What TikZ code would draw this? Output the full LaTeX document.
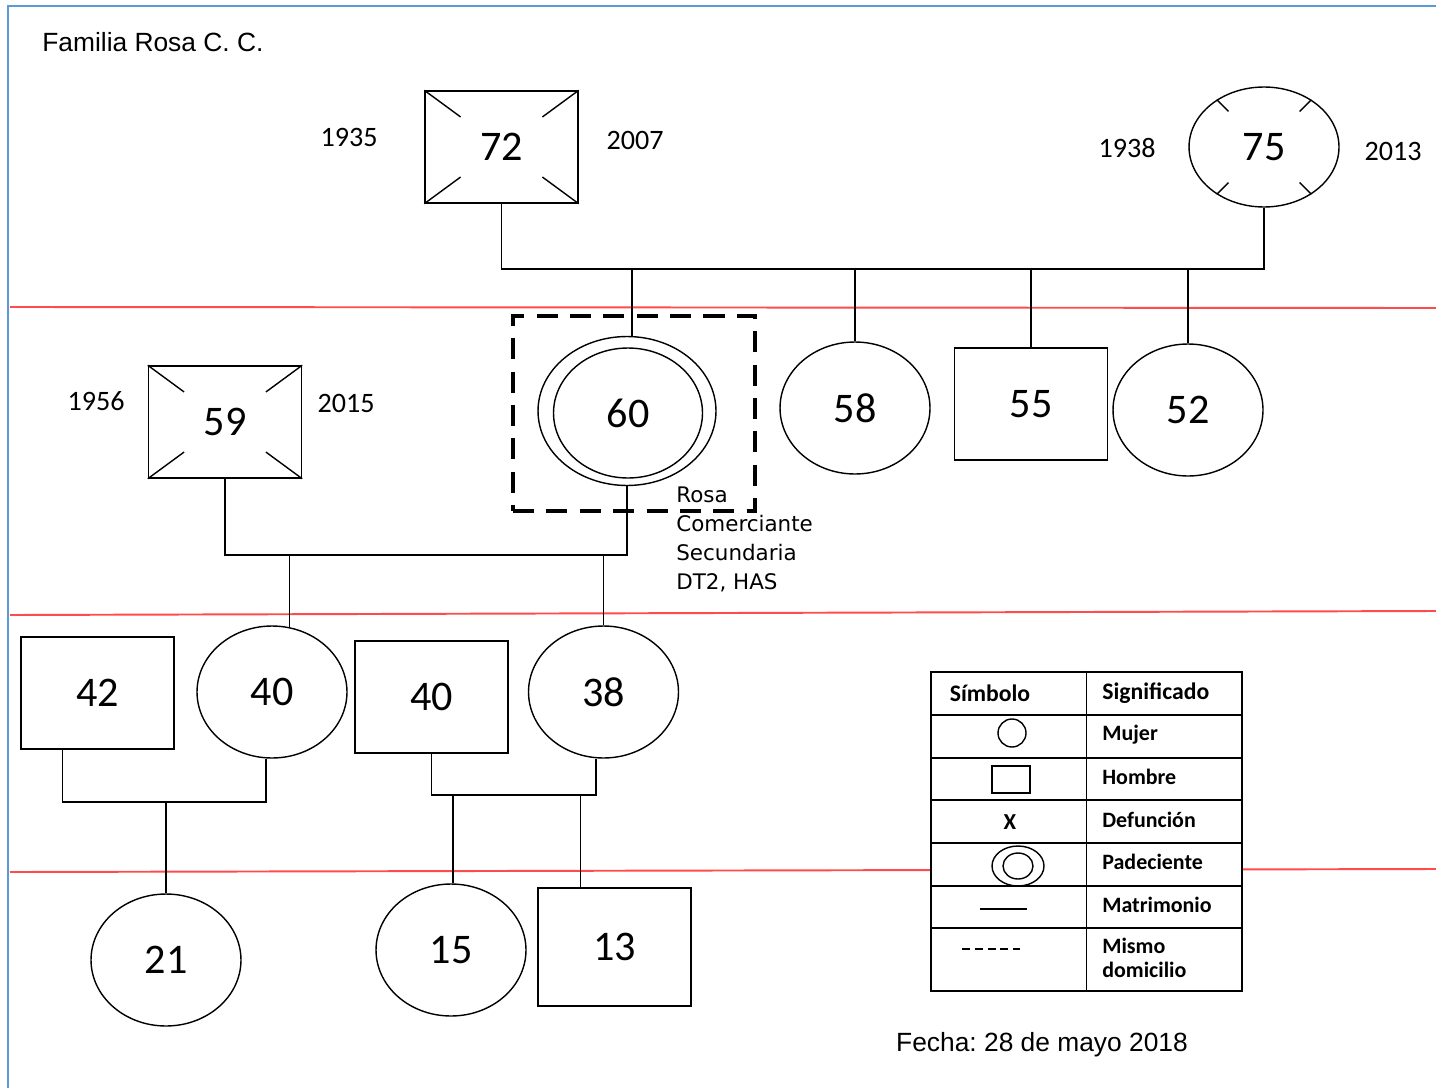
\documentclass[tikz,border=0pt]{standalone}
\usepackage{fontspec}
\setmainfont{Carlito}
\newfontfamily\arialf{Liberation Sans}
\newfontfamily\verdf{DejaVu Sans}
\usetikzlibrary{shapes.geometric,calc}
\definecolor{frameblue}{HTML}{5B9BD5}
\definecolor{genred}{HTML}{FF4B4B}
\frenchspacing

\begin{document}
\begin{tikzpicture}[x=0.02cm, y=-0.02cm,
        every node/.style={align=center},
        man/.style={draw, line width=0.8pt, rectangle, inner sep=0pt,
                    minimum width=3.06cm, minimum height=2.24cm,
                    font=\fontsize{24}{28}\selectfont},
        woman/.style={draw, line width=0.8pt, ellipse, inner sep=0pt,
                      minimum width=3cm, minimum height=2.64cm,
                      font=\fontsize{24}{28}\selectfont},
        year/.style={font=\fontsize{16}{19}\selectfont},
        link/.style={line width=0.8pt},
        genline/.style={genred, line width=1.1pt},
        legtxt/.style={font=\bfseries\fontsize{12.5}{13.6}\selectfont,
                       anchor=west, inner sep=0pt, align=left},
    ]
    \useasboundingbox (0,0) rectangle (1436,1088);
    \fill[white] (0,0) rectangle (1436,1088);

    % --- Frame and generation lines ---------------------------------------
    \draw[frameblue, line width=1.2pt] (8,1088) -- (8,6) -- (1436,6);
    \draw[genline] (10,307) -- (1436,308);
    \draw[genline] (10,615) -- (1436,611);
    \draw[genline] (10,872) -- (1436,869);

    \node[anchor=west, inner sep=0pt, font=\arialf\fontsize{15}{18}\selectfont]
        (titulo) at (42,42) {Familia Rosa C. C.};

    % --- Generation I -----------------------------------------------------
    \node[man] (p72) at (501.5,147) {72};
    \node[year] (y1935) at (349,137) {1935};
    \node[year] (y2007) at (635,140) {2007};
    \foreach \c in {north west, north east, south west, south east}
        \draw[link] (p72.\c) -- ($(p72.\c)!0.47!(p72.center)$);

    \node[woman, minimum height=2.4cm] (p75) at (1264,147) {75};
    \node[year] (y1938) at (1127,148) {1938};
    \node[year] (y2013) at (1393,151) {2013};
    \foreach \a in {45,135,225,315}
        \draw[link] (p75.\a) -- ($(p75.\a)!0.25!(p75.center)$);

    \coordinate (m1) at (880,269);
    \draw[link] (p72.south) -- (p72.south |- m1) -- (p75.south |- m1)
        -- (p75.south);

    % --- Generation II ----------------------------------------------------
    \node[woman, minimum width=3.56cm, minimum height=2.98cm] (p60) at (627,411) {};
    \node[woman, minimum width=2.98cm, minimum height=2.6cm] (p60in) at (628,413) {60};
    \node[draw, line width=2.3pt, dash pattern=on 12pt off 7pt,
          minimum width=4.84cm, minimum height=3.9cm] (hogar) at (634,413.5) {};
    \node[woman] (p58) at (855,408) {58};
    \node[man] (p55) at (1031,404) {55};
    \node[woman] (p52) at (1188,410) {52};

    \draw[link] ([xshift=0.1cm]p60.north |- m1) -- ([xshift=0.1cm]p60.north);
    \foreach \k in {p58, p55, p52}
        \draw[link] (\k.north |- m1) -- (\k.north);

    \node[anchor=north west, inner sep=0pt, align=left,
          font=\verdf\fontsize{12.2}{16.5}\selectfont]
        (rosa) at (676,487) {Rosa\\Comerciante\\Secundaria\\DT2, HAS};

    \node[man] (p59) at (225,422) {59};
    \node[year] (y1956) at (96,401) {1956};
    \node[year] (y2015) at (346,403) {2015};
    \foreach \c in {north west, north east, south west, south east}
        \draw[link] (p59.\c) -- ($(p59.\c)!0.47!(p59.center)$);

    \coordinate (m2) at (430,555);
    \draw[link] (p59.south) -- (p59.south |- m2) -- (p60.south |- m2)
        -- (p60.south);

    % --- Generation III ---------------------------------------------------
    \node[man] (p42) at (97.5,693) {42};
    \node[woman] (p40w) at (272,692) {40};
    \node[man] (p40m) at (431.5,697) {40};
    \node[woman] (p38) at (603.5,692) {38};

    \draw[link] (p40w.75 |- m2) -- (p40w.75);
    \draw[link] (p38.north |- m2) -- (p38.north);

    \coordinate (m3) at (165,802);
    \draw[link] ([xshift=-0.7cm]p42.south) -- ([xshift=-0.7cm]p42.south |- m3)
        -- ([xshift=-0.12cm]p40w.south |- m3) -- ([xshift=-0.12cm]p40w.south);

    \coordinate (m4) at (510,795);
    \draw[link] (p40m.south) -- (p40m.south |- m4)
        -- ([xshift=-0.15cm]p38.south |- m4) -- ([xshift=-0.15cm]p38.south);

    % --- Generation IV ----------------------------------------------------
    \node[woman] (p21) at (166,960) {21};
    \node[woman] (p15) at (451,950) {15};
    \node[man, minimum height=2.36cm] (p13) at (614.5,947) {13};

    \draw[link] (p21.north |- m3) -- (p21.north);
    \draw[link] ([xshift=0.04cm]p15.north |- m4) -- ([xshift=0.04cm]p15.north);
    \draw[link] ([xshift=-0.68cm]p13.north |- m4) -- ([xshift=-0.68cm]p13.north);

    % --- Legend -----------------------------------------------------------
    \node[draw, fill=white, line width=1.2pt, minimum width=6.22cm,
          minimum height=6.38cm, inner sep=0pt] (legend) at (1086.5,831.5) {};
    \draw[line width=1pt] (legend.north) -- (legend.south);
    \foreach \y in {715,758,800,843,886,928}
        \draw[line width=1pt] (legend.west |- 0,\y) -- (legend.east |- 0,\y);

    \node[font=\bfseries\fontsize{13.5}{15}\selectfont] (hsim) at (990,693) {Símbolo};
    \node[legtxt, font=\bfseries\fontsize{13.5}{15}\selectfont] (hsig) at (1102,693) {Significado};

    \node[draw, circle, line width=0.8pt, minimum size=0.56cm, inner sep=0pt]
        (symw) at (1012,733) {};
    \node[draw, line width=0.8pt, minimum width=0.76cm, minimum height=0.54cm,
          inner sep=0pt] (symm) at (1011,779.5) {};
    \node[font=\bfseries\fontsize{13}{15}\selectfont] (symx) at (1010,822) {X};
    \node[draw, ellipse, line width=0.8pt, minimum width=1.04cm,
          minimum height=0.8cm, inner sep=0pt] (symp) at (1018,866) {};
    \node[draw, ellipse, line width=0.8pt, minimum width=0.6cm,
          minimum height=0.52cm, inner sep=0pt] (sympin) at (1018,866) {};
    \draw[line width=0.9pt] (980,909) -- (1027,909);
    \draw[line width=0.9pt, dash pattern=on 4.5pt off 2.8pt] (962,949) -- (1020,949);

    \node[legtxt] (lmujer) at (1102,735) {Mujer};
    \node[legtxt] (lhombre) at (1102,777) {Hombre};
    \node[legtxt] (ldef) at (1102,820) {Defunción};
    \node[legtxt] (lpad) at (1102,862) {Padeciente};
    \node[legtxt] (lmat) at (1102,905) {Matrimonio};
    \node[legtxt] (ldom) at (1102,958) {Mismo\\domicilio};

    \node[font=\arialf\fontsize{15}{18}\selectfont] (fecha) at (1042,1045)
        {Fecha: 28 de mayo 2018};
\end{tikzpicture}
\end{document}
